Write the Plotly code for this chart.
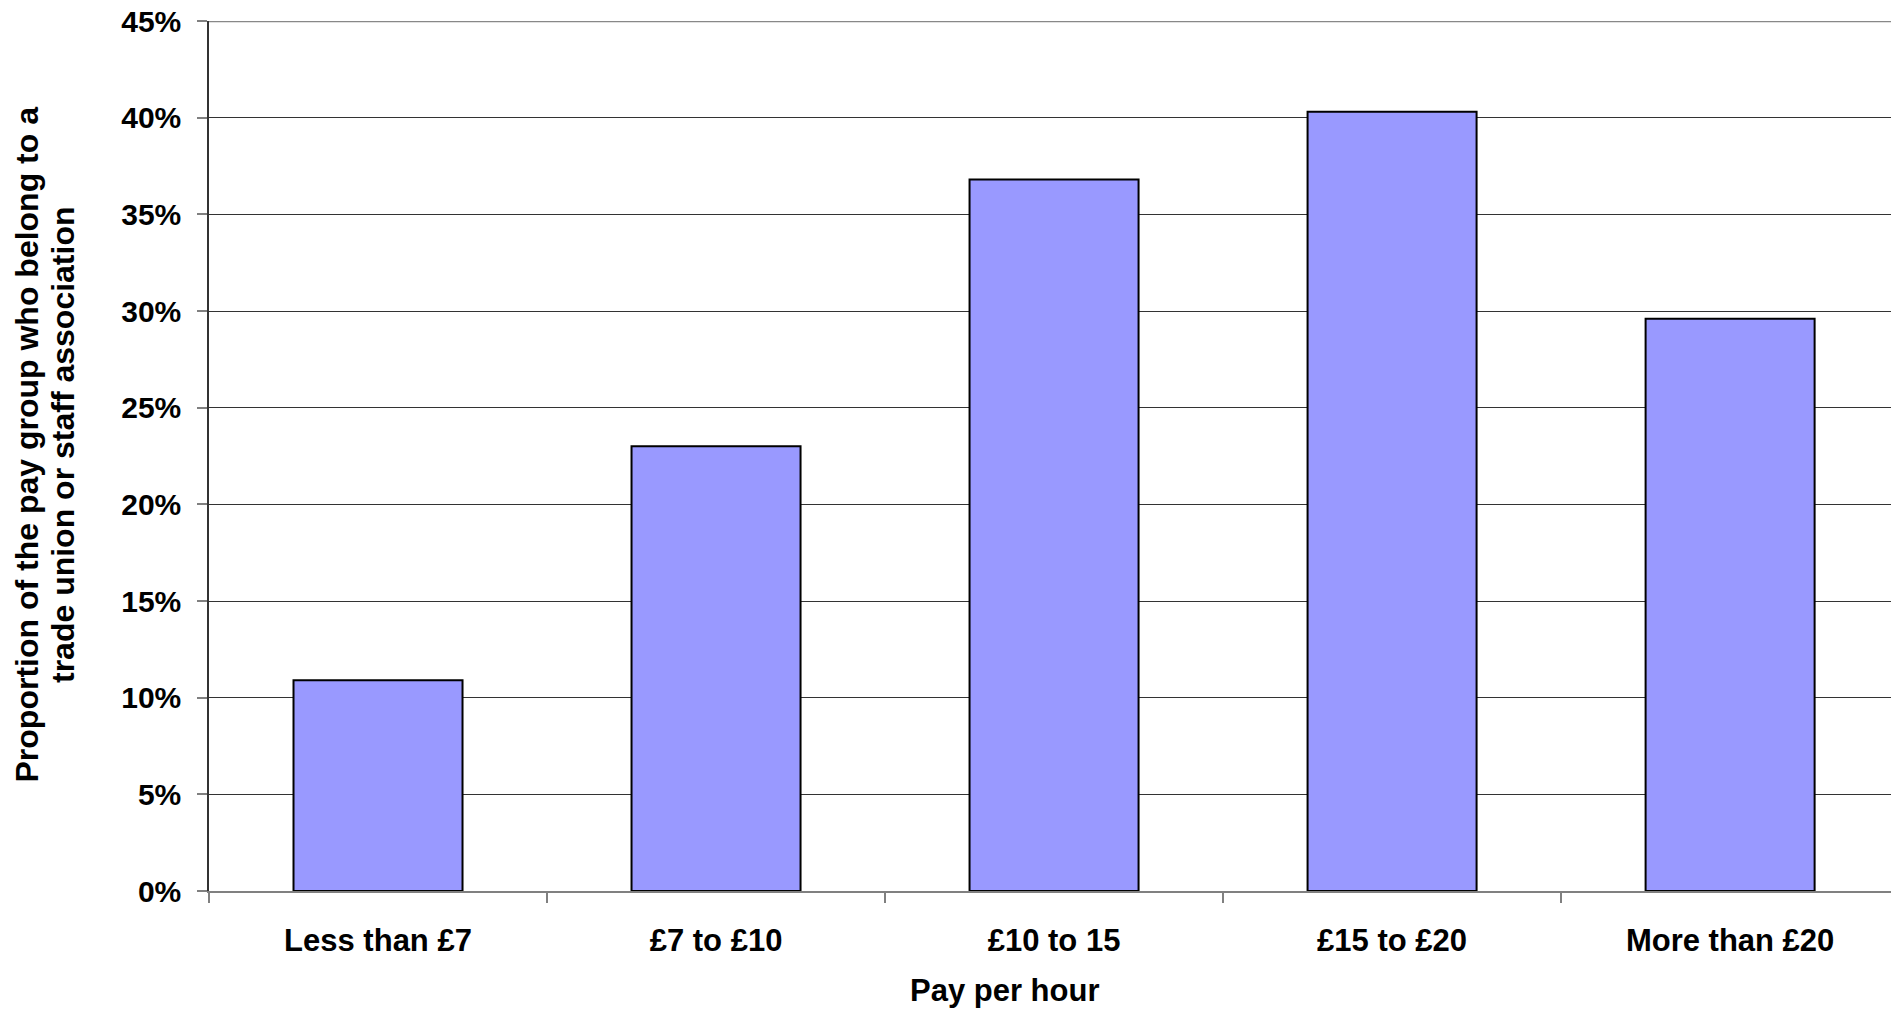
import plotly.graph_objects as go

categories = ["Less than £7", "£7 to £10", "£10 to 15", "£15 to £20", "More than £20"]
values = [10.9, 23.0, 36.8, 40.3, 29.6]
y_ticks = [0, 5, 10, 15, 20, 25, 30, 35, 40, 45]
y_tick_labels = [f"{v}%" for v in y_ticks]
y_title_lines = ["Proportion of the pay group who belong to a", "trade union or staff association"]
x_title = "Pay per hour"

FONT = "Arial, Liberation Sans, sans-serif"
W, H = 1891, 1009
L, T, B = 209, 21, 118

fig = go.Figure(
    go.Bar(
        x=list(range(len(categories))),
        y=values,
        width=0.5,
        marker=dict(color="#9999FF", line=dict(color="#000000", width=2)),
        hoverinfo="skip",
    )
)

fig.update_layout(
    width=W,
    height=H,
    margin=dict(l=L, r=0, t=T, b=B, pad=0),
    paper_bgcolor="white",
    plot_bgcolor="white",
    showlegend=False,
    font=dict(family=FONT, size=30, color="black"),
)

fig.update_xaxes(
    range=[-0.5, 4.476],
    tickmode="array",
    tickvals=list(range(len(categories))),
    ticktext=[f"<b>{c}</b>" for c in categories],
    tickfont=dict(family=FONT, size=31, color="black"),
    ticks="",
    showgrid=False,
    showline=True,
    linecolor="#808080",
    linewidth=2,
    zeroline=False,
    ticklabelstandoff=21,
    minor=dict(tickmode="array", tickvals=[-0.5, 0.5, 1.5, 2.5, 3.5, 4.5],
               ticks="outside", ticklen=10, tickcolor="#808080", tickwidth=1.5),
)

fig.update_yaxes(
    range=[0, 45],
    tickmode="array",
    tickvals=y_ticks,
    ticktext=[f"<b>{t}</b>" for t in y_tick_labels],
    tickfont=dict(family=FONT, size=30, color="black"),
    ticks="outside",
    ticklen=10,
    tickcolor="#808080",
    tickwidth=1.5,
    showgrid=True,
    gridcolor="#333333",
    gridwidth=1,
    showline=True,
    linecolor="#333333",
    linewidth=1.5,
    zeroline=False,
    ticklabelstandoff=10,
)

# top border line at 45%
fig.add_shape(type="line", xref="paper", yref="y", x0=0, x1=1, y0=45, y1=45,
              line=dict(color="#888888", width=2.5))

for line_text, cx in zip(y_title_lines, [26.5, 63]):
    fig.add_annotation(
        text=f"<b>{line_text}</b>",
        xref="paper", yref="paper",
        x=(cx - L) / (W - L), y=(H - B - 445) / (H - B - T),
        xanchor="center", yanchor="middle",
        textangle=-90, showarrow=False,
        font=dict(family=FONT, size=32, color="black"),
    )

fig.add_annotation(
    text=f"<b>{x_title}</b>",
    xref="paper", yref="paper",
    x=(1005 - L) / (W - L), y=(H - B - 990) / (H - B - T),
    xanchor="center", yanchor="middle",
    showarrow=False,
    font=dict(family=FONT, size=31, color="black"),
)

fig.write_html(
    "out.html",
    config={"displayModeBar": False},
    post_script="document.body.style.margin='0px';document.body.style.overflow='hidden';",
)
